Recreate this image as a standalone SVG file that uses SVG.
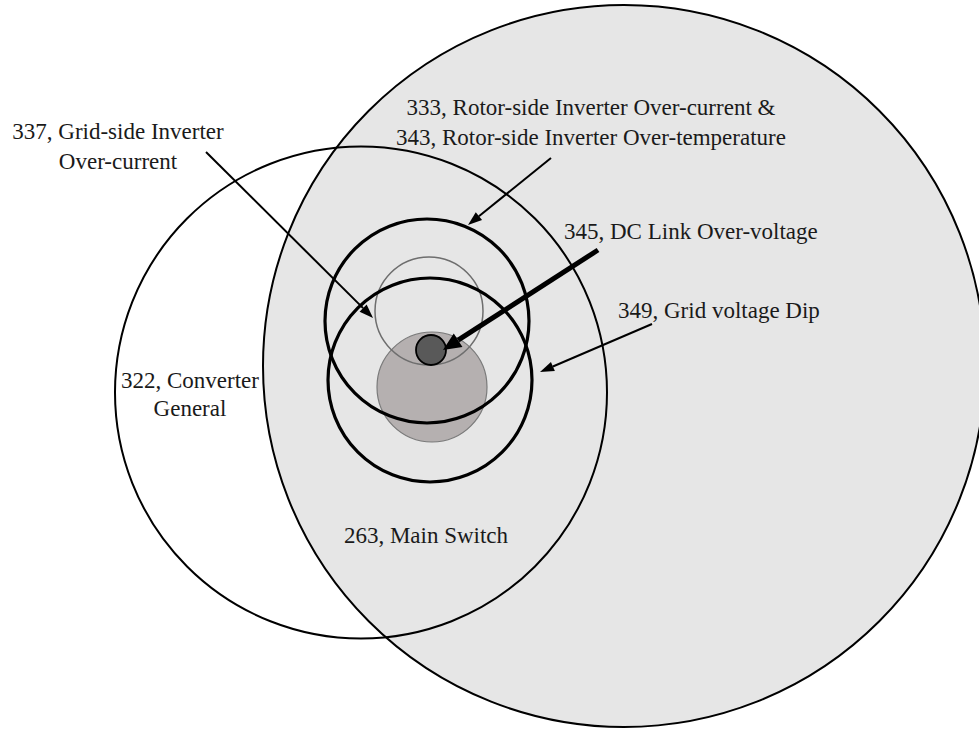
<svg xmlns="http://www.w3.org/2000/svg" width="979" height="731" viewBox="0 0 979 731">
  <style>
    .lbl { font-family: "Liberation Serif", "Times New Roman", serif; font-size: 23px; fill: #1a1a1a; }
    .big { stroke: #000; stroke-width: 2; }
    .thick { fill: none; stroke: #000; stroke-width: 3.2; }
    .conn { stroke: #000; fill: none; }
  </style>
  <defs>
    <marker id="ah" markerUnits="userSpaceOnUse" markerWidth="16" markerHeight="12" refX="0" refY="5" orient="auto" overflow="visible">
      <path d="M0,0 L14,5 L0,10 z" fill="#000"/>
    </marker>
    <marker id="ahBig" markerUnits="userSpaceOnUse" markerWidth="20" markerHeight="18" refX="0" refY="8" orient="auto" overflow="visible">
      <path d="M0,0 L18,8 L0,16 z" fill="#000"/>
    </marker>
  </defs>
  <rect width="979" height="731" fill="#fff"/>

  <g id="n263">
    <circle cx="624" cy="366" r="361" fill="#e6e6e6" class="big"/>
    <text class="lbl" x="426" y="543" text-anchor="middle">263, Main Switch</text>
  </g>

  <g id="n322">
    <circle cx="361" cy="392.5" r="246" fill="none" class="big"/>
    <text class="lbl" x="190" y="388" text-anchor="middle">322, Converter</text>
    <text class="lbl" x="190" y="416" text-anchor="middle">General</text>
  </g>

  <g id="nGray">
    <circle cx="432" cy="387" r="55" fill="#b5b0b0" stroke="#7a7a7a" stroke-width="1.2"/>
  </g>

  <g id="n337">
    <circle cx="429" cy="311" r="54" fill="none" stroke="#6e6e6e" stroke-width="1.5"/>
    <text class="lbl" x="118" y="139" text-anchor="middle">337, Grid-side Inverter</text>
    <text class="lbl" x="118" y="169" text-anchor="middle">Over-current</text>
  </g>

  <g id="n333">
    <circle cx="427" cy="321" r="102" class="thick"/>
    <text class="lbl" x="591" y="115" text-anchor="middle">333, Rotor-side Inverter Over-current &amp;</text>
    <text class="lbl" x="591" y="145" text-anchor="middle">343, Rotor-side Inverter Over-temperature</text>
  </g>

  <g id="n349">
    <circle cx="430" cy="380" r="102" class="thick"/>
    <text class="lbl" x="618" y="318">349, Grid voltage Dip</text>
  </g>

  <g id="n345">
    <circle cx="431" cy="350" r="15" fill="#595959" stroke="#000" stroke-width="1.8"/>
    <text class="lbl" x="564" y="239">345, DC Link Over-voltage</text>
  </g>

  <g id="connectors">
    <line class="conn" x1="206" y1="152" x2="363.1" y2="308.1" stroke-width="2" marker-end="url(#ah)"/>
    <line class="conn" x1="551" y1="158" x2="478.9" y2="216.2" stroke-width="2" marker-end="url(#ah)"/>
    <line class="conn" x1="598" y1="250" x2="458.1" y2="340.2" stroke-width="5" marker-end="url(#ahBig)"/>
    <line class="conn" x1="652" y1="324" x2="552.9" y2="366.5" stroke-width="2" marker-end="url(#ah)"/>
  </g>
</svg>
